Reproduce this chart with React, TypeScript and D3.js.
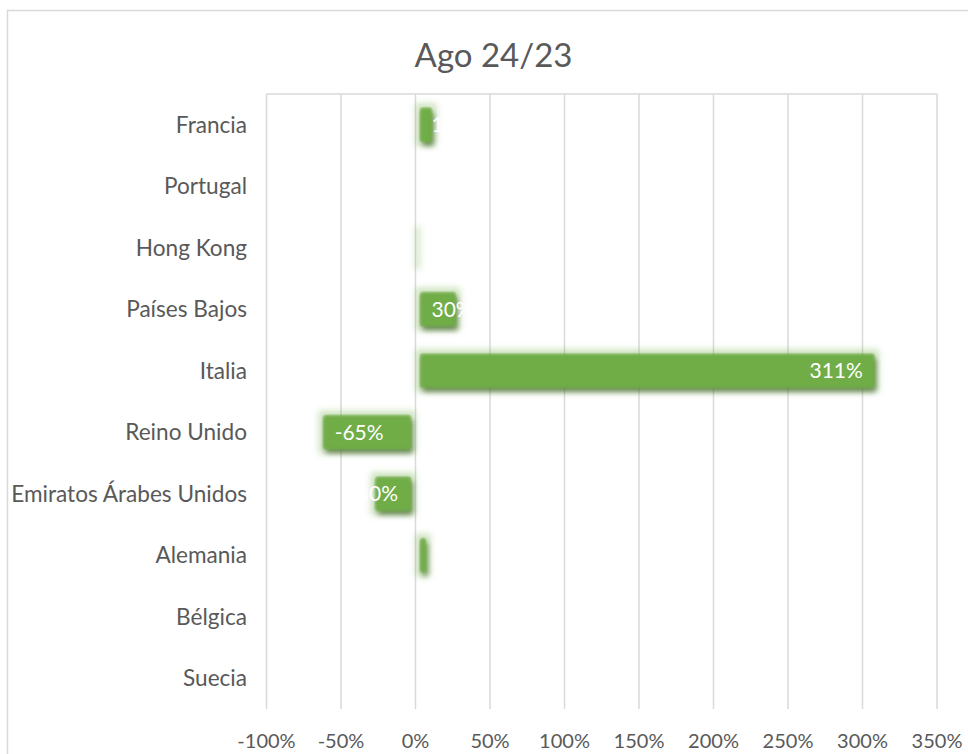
import React, { useMemo } from "react";
import * as d3 from "d3";

const categories = [
  "Francia",
  "Portugal",
  "Hong Kong",
  "Países Bajos",
  "Italia",
  "Reino Unido",
  "Emiratos Árabes Unidos",
  "Alemania",
  "Bélgica",
  "Suecia",
];
const values: (number | null)[] = [14, null, 3, 30, 311, -65, -30, 10, null, null];
const xTicks = [-100, -50, 0, 50, 100, 150, 200, 250, 300, 350];
const title = "Ago 24/23";

const W = 968;
const H = 754;
const FONT = "Lato, 'Noto Sans', sans-serif";
const FS = 21;
const FS_CAT = 22.6;
const FS_TICK = 20;
const GREEN = "#70ad47";
const TEXT = "#595959";
const GRID = "#d9d9d9";

export default function App() {
  const x = d3.scaleLinear().domain([-100, 350]).range([266.5, 937]);
  const y = d3.scaleBand<string>().domain(categories).range([94, 709]).paddingInner(0.3).paddingOuter(0.15);
  const band = d3.scaleBand<string>().domain(categories).range([94, 709]);

  const measure = useMemo(() => {
    const c = document.createElement("canvas").getContext("2d")!;
    c.font = `${FS}px Lato`;
    return (s: string) => c.measureText(s).width;
  }, []);

  const fmt = (v: number) => `${Math.round(v)}%`;
  const pad = 16;

  return (
    <div style={{ position: "absolute", left: 0, top: 0 }}>
      <svg width={W} height={H} style={{ display: "block" }}>
        <defs>
          <filter id="soft" filterUnits="userSpaceOnUse" x={0} y={0} width={W} height={H}>
            <feGaussianBlur in="SourceAlpha" stdDeviation={3} result="blur" />
            <feComponentTransfer in="blur" result="core">
              <feFuncA type="linear" slope={6} intercept={-5} />
            </feComponentTransfer>
            <feComponentTransfer in="blur" result="haloA">
              <feFuncA type="linear" slope={0.35} intercept={0} />
            </feComponentTransfer>
            <feFlood floodColor={GREEN} result="g" />
            <feComposite in="g" in2="core" operator="in" result="bar" />
            <feComposite in="g" in2="haloA" operator="in" result="halo" />
            <feGaussianBlur in="core" stdDeviation={2.5} result="sb" />
            <feOffset in="sb" dx={2} dy={4} result="so" />
            <feFlood floodColor="#000" floodOpacity={0.75} result="sc" />
            <feComposite in="sc" in2="so" operator="in" result="shadow" />
            <feMerge>
              <feMergeNode in="shadow" />
              <feMergeNode in="halo" />
              <feMergeNode in="bar" />
            </feMerge>
          </filter>
        </defs>
        <rect x={7.5} y={10.5} width={W + 20} height={H + 20} fill="#fff" stroke={GRID} strokeWidth={1.5} />
        <text x={493.5} y={67} textAnchor="middle" fontFamily={FONT} fontSize={33} fill={TEXT}>
          {title}
        </text>
        {xTicks.map((t) => (
          <line key={t} x1={x(t)} x2={x(t)} y1={94} y2={709} stroke={GRID} strokeWidth={1.5} />
        ))}
        <line x1={x(-100)} x2={x(350)} y1={94} y2={94} stroke={GRID} strokeWidth={1.5} />
        {xTicks.map((t) => (
          <text key={t} x={x(t)} y={748} textAnchor="middle" fontFamily={FONT} fontSize={FS_TICK} fill={TEXT}>
            {`${t}%`}
          </text>
        ))}
        {categories.map((c) => (
          <text key={c} x={247} y={band(c)! + band.bandwidth() / 2} dy="0.35em" textAnchor="end" fontFamily={FONT} fontSize={FS_CAT} fill={TEXT}>
            {c}
          </text>
        ))}
        {categories.map((c, i) => {
          const v = values[i];
          if (v == null) return null;
          const x0 = x(Math.min(0, v));
          const x1 = x(Math.max(0, v));
          return <rect key={c} x={x0} y={y(c)!} width={x1 - x0} height={y.bandwidth()} fill={GREEN} filter="url(#soft)" />;
        })}
        {categories.map((c, i) => {
          const v = values[i];
          if (v == null) return null;
          const s = fmt(v);
          const tw = measure(s);
          const bw = Math.abs(x(v) - x(0));
          const fits = bw >= tw + pad * 2;
          const cy = band(c)! + band.bandwidth() / 2;
          let tx: number;
          let anchor: "start" | "end";
          if (v >= 0) {
            if (fits) { tx = x(v) - pad; anchor = "end"; } else { tx = x(0) + pad; anchor = "start"; }
          } else {
            if (fits) { tx = x(v) + pad; anchor = "start"; } else { tx = x(0) - pad - 1.5; anchor = "end"; }
          }
          return (
            <text key={c} x={tx} y={cy} dy="0.35em" textAnchor={anchor} fontFamily={FONT} fontSize={FS} fill="#fff">
              {s}
            </text>
          );
        })}
      </svg>
    </div>
  );
}
